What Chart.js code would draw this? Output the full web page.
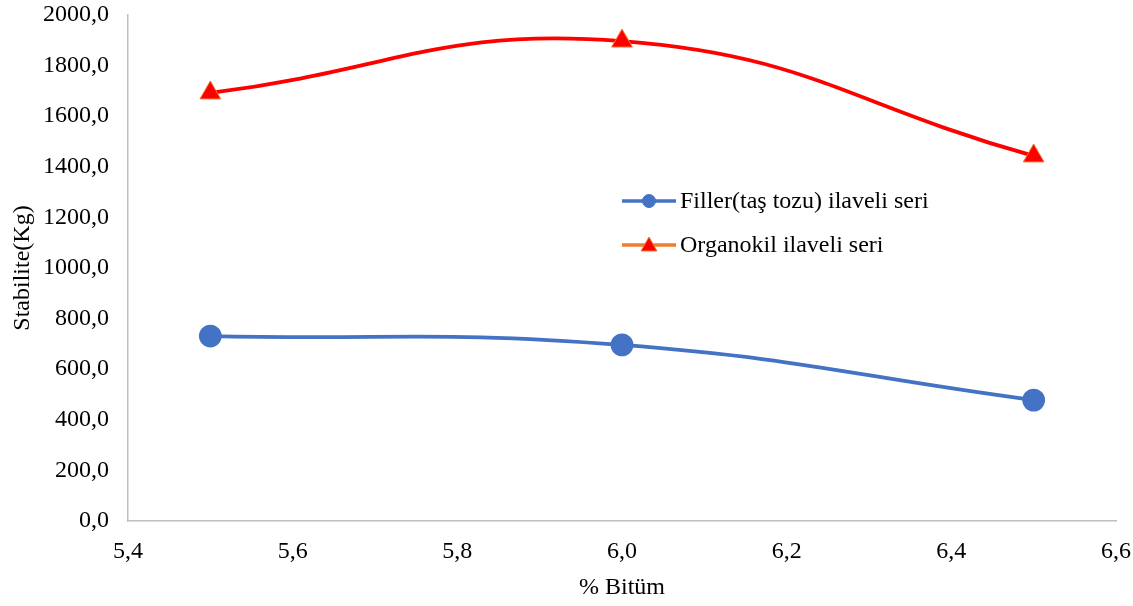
<!DOCTYPE html>
<html>
<head>
<meta charset="utf-8">
<script src="https://cdn.jsdelivr.net/npm/chart.js@4"></script>
<style>
  html, body { margin: 0; padding: 0; background: #fff; }
  #wrap { width: 1133px; height: 606px; }
</style>
</head>
<body>
<div id="wrap"><canvas id="chart"></canvas></div>
<script>
// data
const bitumen = [5.5, 6.0, 6.5]
const fillerSeries = [731, 696, 478]
const organokilSeries = [1692, 1897, 1443]
const seriesNames = ["Filler(taş tozu) ilaveli seri", "Organokil ilaveli seri"]

const FONT = "'Liberation Serif', 'Times New Roman', serif"
const SIZE = 24
const fmt = v => v.toFixed(1).replace(".", ",")

// legend drawn inside the plot like the excel one
const legendPlugin = {
  id: "insideLegend",
  afterDraw(chart) {
    const ctx = chart.ctx
    const items = [
      { line: "#4472C4", marker: "circle", fill: "#4472C4", stroke: "#4472C4", y: 201 },
      { line: "#ED7D31", marker: "triangle", fill: "#FF0000", stroke: "#ED7D31", y: 245 }
    ]
    ctx.save()
    items.forEach((it, i) => {
      ctx.strokeStyle = it.line
      ctx.lineWidth = 3.5
      ctx.beginPath()
      ctx.moveTo(622, it.y)
      ctx.lineTo(676, it.y)
      ctx.stroke()
      ctx.fillStyle = it.fill
      ctx.strokeStyle = it.stroke
      ctx.lineWidth = 1
      ctx.beginPath()
      if (it.marker === "circle") {
        ctx.arc(649, it.y, 6.5, 0, Math.PI * 2)
      } else {
        ctx.moveTo(649, it.y - 8)
        ctx.lineTo(657, it.y + 6)
        ctx.lineTo(641, it.y + 6)
        ctx.closePath()
      }
      ctx.fill()
      ctx.stroke()
      ctx.fillStyle = "#000"
      ctx.font = SIZE + "px " + FONT
      ctx.textBaseline = "middle"
      ctx.fillText(seriesNames[i], 680, it.y + 1)
    })
    ctx.restore()
  }
}

new Chart(document.getElementById("chart"), {
  type: "scatter",
  data: {
    datasets: [
      {
        label: seriesNames[0],
        data: bitumen.map((x, i) => ({ x, y: fillerSeries[i] })),
        showLine: true,
        tension: 0.45,
        borderColor: "#4472C4",
        borderWidth: 3.8,
        pointStyle: "circle",
        pointRadius: 9.5,
        pointHoverRadius: 9.5,
        pointBackgroundColor: "#4472C4",
        pointBorderColor: "#4472C4"
      },
      {
        label: seriesNames[1],
        data: bitumen.map((x, i) => ({ x, y: organokilSeries[i] })),
        showLine: true,
        tension: 0.45,
        borderColor: "#FF0000",
        borderWidth: 3.8,
        pointStyle: "triangle",
        pointRadius: 12,
        pointHoverRadius: 12,
        pointBackgroundColor: "#FF0000",
        pointBorderColor: "#ED7D31",
        pointBorderWidth: 1
      }
    ]
  },
  options: {
    responsive: true,
    maintainAspectRatio: false,
    animation: false,
    layout: { padding: { top: 15, right: 17, left: 0, bottom: 0 } },
    plugins: {
      legend: { display: false },
      tooltip: { enabled: false }
    },
    scales: {
      x: {
        type: "linear",
        min: 5.4,
        max: 6.6,
        ticks: {
          stepSize: 0.2,
          color: "#000",
          font: { family: FONT, size: SIZE },
          padding: 16,
          callback: v => fmt(v)
        },
        grid: { display: false, drawTicks: false },
        border: { color: "#BFBFBF", width: 1.5 },
        title: {
          display: true,
          text: "% Bitüm",
          color: "#000",
          font: { family: FONT, size: SIZE },
          padding: { top: 4 }
        },
        afterFit(scale) {
          scale.height = 85
          scale.paddingLeft = 0
          scale.paddingRight = 0
        }
      },
      y: {
        min: 0,
        max: 2000,
        ticks: {
          stepSize: 200,
          color: "#000",
          font: { family: FONT, size: SIZE },
          padding: 19,
          callback: v => fmt(v)
        },
        grid: { display: false, drawTicks: false },
        border: { color: "#BFBFBF", width: 1.5 },
        title: {
          display: true,
          text: "Stabilite(Kg)",
          color: "#000",
          font: { family: FONT, size: SIZE },
          padding: { top: 8, bottom: 0 }
        },
        afterFit(scale) {
          scale.width = 128
          scale.paddingTop = 0
          scale.paddingBottom = 0
        }
      }
    }
  },
  plugins: [legendPlugin]
})
</script>
</body>
</html>
